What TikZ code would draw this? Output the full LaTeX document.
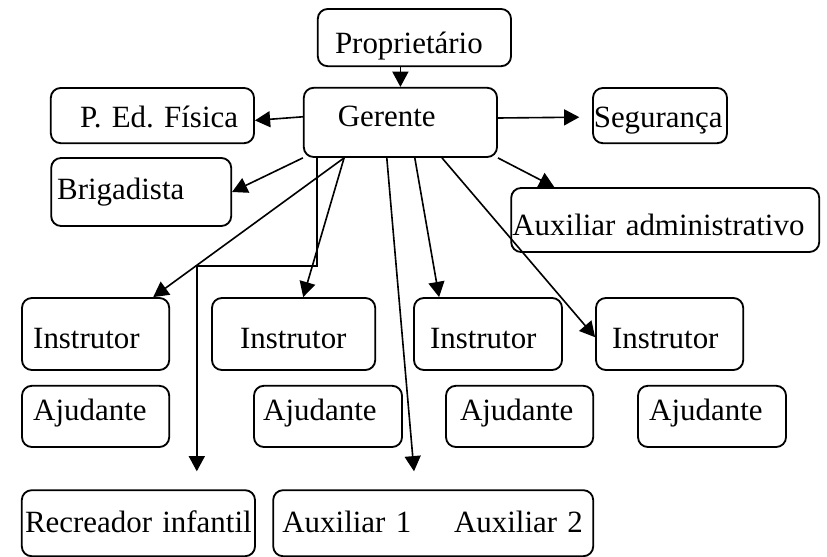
\documentclass[tikz,border=0pt]{standalone}
\usepackage{fontspec}
\setmainfont{Liberation Serif}
\usetikzlibrary{arrows.meta}
\frenchspacing

\begin{document}
\begin{tikzpicture}[
  font=\fontsize{22}{26}\selectfont,
  >={Triangle[length=3.8mm, width=4mm]},
  box/.style={draw, line width=1.3pt, rounded corners=7pt, align=left,
              inner xsep=0pt, inner ysep=0pt, text height=0.45cm, text depth=0pt},
  lead/.style={execute at begin node={\hspace*{#1}}},
  instbox/.style={box, minimum height=1.8cm, text height=0.7cm},
  helpbox/.style={box, minimum height=1.53cm, text height=0.18cm},
  flow/.style={->, line width=1.15pt},
]
\useasboundingbox (0,0) rectangle (20.675cm,-13.925cm);
\fill[white] (0,0) rectangle (20.675cm,-13.925cm);

% ---------------------------- owner and manager ---------------------------
\node[box, lead=0.43cm, text width=4.83cm, minimum height=1.43cm, text height=0.78cm]
  (prop) at (10.36cm,-0.94cm) {Proprietário};
\node[box, lead=0.85cm, text width=4.83cm, minimum height=1.73cm, text height=0.22cm]
  (ger) at (10.01cm,-3.06cm) {Gerente};

% ---------------------------- beside the manager --------------------------
\node[box, lead=0.73cm, text width=5.08cm, minimum height=1.38cm, text height=0.58cm]
  (ped) at (3.81cm,-2.89cm) {P. Ed. Física};
\node[box, lead=0.15cm, text width=4.5cm, minimum height=1.7cm, text height=0.4cm]
  (brig) at (3.53cm,-4.8cm) {Brigadista};
\node[box, lead=0.02cm, text width=3.35cm, minimum height=1.38cm, text height=0.58cm]
  (seg) at (16.5cm,-2.89cm) {Segurança};
\node[box, lead=0.03cm, text width=7.7cm, minimum height=1.6cm, text height=0.8cm]
  (adm) at (16.63cm,-5.5cm) {Auxiliar administrativo};

% ---------------------------- instructors ---------------------------------
\node[instbox, lead=0.28cm, text width=3.68cm] (ins1) at (2.39cm,-8.35cm) {Instrutor};
\node[instbox, lead=0.7cm, text width=4.08cm] (ins2) at (7.34cm,-8.35cm) {Instrutor};
\node[instbox, lead=0.4cm, text width=3.7cm] (ins3) at (12.2cm,-8.35cm) {Instrutor};
\node[instbox, lead=0.4cm, text width=3.68cm] (ins4) at (16.74cm,-8.35cm) {Instrutor};

% ---------------------------- helpers -------------------------------------
\node[helpbox, lead=0.28cm, text width=3.68cm] (aj1) at (2.39cm,-10.41cm) {Ajudante};
\node[helpbox, lead=0.23cm, text width=3.7cm] (aj2) at (8.2cm,-10.41cm) {Ajudante};
\node[helpbox, lead=0.35cm, text width=3.68cm] (aj3) at (12.99cm,-10.41cm) {Ajudante};
\node[helpbox, lead=0.28cm, text width=3.7cm] (aj4) at (17.8cm,-10.41cm) {Ajudante};

% ---------------------------- bottom row ----------------------------------
\node[box, lead=0.08cm, text width=5.83cm, minimum height=1.65cm] (rec) at (3.46cm,-13.08cm)
  {Recreador infantil};
\node[box, lead=0.23cm, text width=8.0cm, minimum height=1.65cm] (aux) at (10.83cm,-13.08cm)
  {Auxiliar 1\hspace{1.07cm}Auxiliar 2};

% ---------------------------- flow ----------------------------------------
\draw[flow] (prop.south -| ger.north) -- (ger.north);

\draw[flow] ([yshift=0.14cm]ger.west) -- ([yshift=-0.12cm]ped.east);
\draw[flow] (ger.south west) -- (brig.east);
\draw[flow] ([yshift=0.11cm]ger.east) -- ([xshift=-0.32cm,yshift=-0.04cm]seg.west);
\draw[flow] (ger.south east) -- ([xshift=1.1cm]adm.north west);

% the two long drops stop short of their boxes
\coordinate (recIn) at ([xshift=1.46cm,yshift=0.45cm]rec.north);
\coordinate (auxIn) at ([xshift=-0.48cm,yshift=0.45cm]aux.north);
\draw[flow] ([xshift=0.35cm]ger.south west) -- ++(0,-2.7cm) -| (recIn);
\draw[flow] ([xshift=-0.34cm]ger.south) -- (auxIn);

\draw[flow] ([xshift=1.03cm]ger.south west) -- ([xshift=1.44cm]ins1.north);
\draw[flow] ([xshift=1.03cm]ger.south west) -- ([xshift=0.24cm]ins2.north);
\draw[flow] ([xshift=0.36cm]ger.south) -- ([xshift=0.65cm]ins3.north west);
\draw[flow] ([xshift=1.04cm]ger.south) -- ([yshift=-0.08cm]ins4.west);

\end{tikzpicture}
\end{document}
